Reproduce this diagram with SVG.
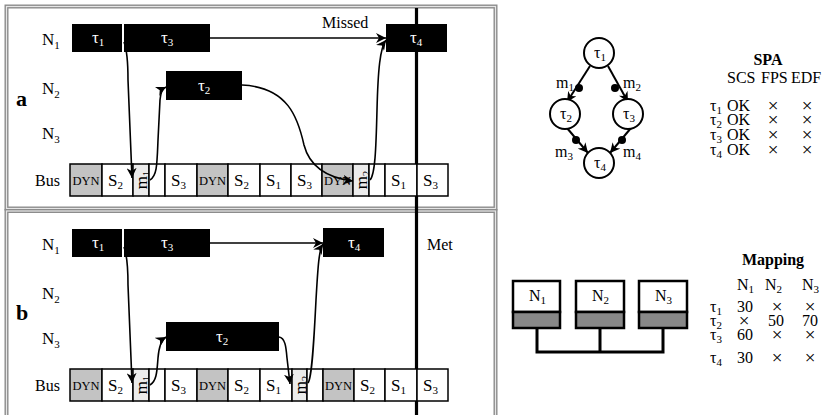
<svg xmlns="http://www.w3.org/2000/svg" width="824" height="415" viewBox="0 0 824 415" font-family="'Liberation Serif', 'DejaVu Serif', serif">
<style>
text{font-family:"Liberation Serif","DejaVu Serif",serif;font-size:16px;fill:#000}
.w{fill:#fff}
.sm{font-size:12.5px}
.b{font-weight:bold}
.sub{font-size:11px}
.big{font-size:17px}
.x{font-size:19px}
.rm{font-size:17px}
.frame{fill:none;stroke:#8c8c8c;stroke-width:4}
.frameIn{fill:none;stroke:#e6e6e6;stroke-width:1.2}
.blk{fill:#000}
.cell{fill:#fff;stroke:#000;stroke-width:1.5}
.dyn{fill:#c3c3c3}
.msg{fill:#ebebeb}
.conn{fill:none;stroke:#000;stroke-width:1.6}
.edge{fill:none;stroke:#000;stroke-width:2}
.circ{fill:#fff;stroke:#000;stroke-width:2}
.box{fill:#fff;stroke:#000;stroke-width:2.5}
.boxg{fill:#888;stroke:#000;stroke-width:2.5}
.wire{fill:none;stroke:#000;stroke-width:3}
</style>
<defs>
<marker id="ah" markerUnits="userSpaceOnUse" markerWidth="12" markerHeight="10" refX="10" refY="5" orient="auto">
<path d="M0,0 L10,5 L0,10 L3,5 Z" fill="#000"/>
</marker>
</defs>
<rect x="0" y="0" width="824" height="415" fill="#fff"/>

<g id="frames">
<rect class="frame" x="6.5" y="6.5" width="489" height="202"/>
<rect class="frameIn" x="6.5" y="6.5" width="489" height="202"/>
<rect class="frame" x="6.5" y="211" width="489" height="210"/>
<rect class="frameIn" x="6.5" y="211" width="489" height="210"/>
</g>
<line x1="416.5" y1="8" x2="416.5" y2="415" stroke="#000" stroke-width="3.2"/>

<g id="panel-a-labels">
<text x="16" y="106" class="b" style="font-size:22px">a</text>
<text x="42" y="45" class="big">N<tspan class="sub" dy="4">1</tspan></text>
<text x="42" y="94" class="big">N<tspan class="sub" dy="4">2</tspan></text>
<text x="42" y="139" class="big">N<tspan class="sub" dy="4">3</tspan></text>
<text x="35" y="186">Bus</text>
<text x="322" y="28">Missed</text>
</g>
<g id="a-tau1"><rect class="blk" x="72" y="24" width="50" height="28"/><text class="w big" x="92" y="43">τ<tspan class="sub w" dy="3">1</tspan></text></g>
<g id="a-tau3"><rect class="blk" x="124" y="24" width="86" height="28"/><text class="w big" x="161" y="43">τ<tspan class="sub w" dy="3">3</tspan></text></g>
<g id="a-tau2"><rect class="blk" x="166" y="71" width="76" height="29"/><text class="w big" x="198" y="91">τ<tspan class="sub w" dy="3">2</tspan></text></g>
<g id="a-tau4"><rect class="blk" x="386" y="24" width="61" height="28"/><text class="w big" x="410" y="43">τ<tspan class="sub w" dy="3">4</tspan></text></g>

<g id="a-bus">
<rect class="cell dyn" x="70" y="164" width="32" height="32"/><text class="sm" x="86" y="185" text-anchor="middle">DYN</text>
<rect class="cell" x="102" y="164" width="31" height="32"/><text class="big" x="108" y="186">S<tspan class="sub" dy="3">2</tspan></text>
<rect class="cell msg" x="133" y="164" width="16" height="32"/><text class="rm" transform="translate(146.5,180) rotate(-90)" text-anchor="middle">m<tspan class="sub" dy="3">1</tspan></text>
<rect class="cell" x="149" y="164" width="16" height="32"/>
<rect class="cell" x="165" y="164" width="32" height="32"/><text class="big" x="171" y="186">S<tspan class="sub" dy="3">3</tspan></text>
<rect class="cell dyn" x="197" y="164" width="31" height="32"/><text class="sm" x="212.5" y="185" text-anchor="middle">DYN</text>
<rect class="cell" x="228" y="164" width="32" height="32"/><text class="big" x="234" y="186">S<tspan class="sub" dy="3">2</tspan></text>
<rect class="cell" x="260" y="164" width="31" height="32"/><text class="big" x="266" y="186">S<tspan class="sub" dy="3">1</tspan></text>
<rect class="cell" x="291" y="164" width="31" height="32"/><text class="big" x="297" y="186">S<tspan class="sub" dy="3">3</tspan></text>
<rect class="cell dyn" x="322" y="164" width="31" height="32"/><text class="sm" x="337.5" y="185" text-anchor="middle">DYN</text>
<rect class="cell msg" x="353" y="164" width="16" height="32"/><text class="rm" transform="translate(366.5,180) rotate(-90)" text-anchor="middle">m<tspan class="sub" dy="3">2</tspan></text>
<rect class="cell" x="369" y="164" width="16" height="32"/>
<rect class="cell" x="385" y="164" width="32" height="32"/><text class="big" x="391" y="186">S<tspan class="sub" dy="3">1</tspan></text>
<rect class="cell" x="417" y="164" width="31" height="32"/><text class="big" x="423" y="186">S<tspan class="sub" dy="3">3</tspan></text>
</g>

<g id="panel-b-labels">
<text x="16" y="320" class="b" style="font-size:22px">b</text>
<text x="42" y="250" class="big">N<tspan class="sub" dy="4">1</tspan></text>
<text x="42" y="299" class="big">N<tspan class="sub" dy="4">2</tspan></text>
<text x="42" y="344" class="big">N<tspan class="sub" dy="4">3</tspan></text>
<text x="35" y="391">Bus</text>
<text x="427" y="250">Met</text>
</g>
<g id="b-tau1"><rect class="blk" x="72" y="229" width="50" height="28"/><text class="w big" x="92" y="248">τ<tspan class="sub w" dy="3">1</tspan></text></g>
<g id="b-tau3"><rect class="blk" x="124" y="229" width="86" height="28"/><text class="w big" x="161" y="248">τ<tspan class="sub w" dy="3">3</tspan></text></g>
<g id="b-tau2"><rect class="blk" x="166" y="322" width="113" height="29"/><text class="w big" x="216" y="342">τ<tspan class="sub w" dy="3">2</tspan></text></g>
<g id="b-tau4"><rect class="blk" x="323" y="228" width="61" height="29"/><text class="w big" x="348" y="248">τ<tspan class="sub w" dy="3">4</tspan></text></g>

<g id="b-bus">
<rect class="cell dyn" x="70" y="369" width="32" height="32"/><text class="sm" x="86" y="390" text-anchor="middle">DYN</text>
<rect class="cell" x="102" y="369" width="31" height="32"/><text class="big" x="108" y="391">S<tspan class="sub" dy="3">2</tspan></text>
<rect class="cell msg" x="133" y="369" width="16" height="32"/><text class="rm" transform="translate(146.5,385) rotate(-90)" text-anchor="middle">m<tspan class="sub" dy="3">1</tspan></text>
<rect class="cell" x="149" y="369" width="16" height="32"/>
<rect class="cell" x="165" y="369" width="32" height="32"/><text class="big" x="171" y="391">S<tspan class="sub" dy="3">3</tspan></text>
<rect class="cell dyn" x="197" y="369" width="31" height="32"/><text class="sm" x="212.5" y="390" text-anchor="middle">DYN</text>
<rect class="cell" x="228" y="369" width="32" height="32"/><text class="big" x="234" y="391">S<tspan class="sub" dy="3">2</tspan></text>
<rect class="cell" x="260" y="369" width="32" height="32"/><text class="big" x="266" y="391">S<tspan class="sub" dy="3">1</tspan></text>
<rect class="cell msg" x="292" y="369" width="15" height="32"/><text class="rm" transform="translate(305.5,385) rotate(-90)" text-anchor="middle">m<tspan class="sub" dy="3">2</tspan></text>
<rect class="cell" x="307" y="369" width="16" height="32"/>
<rect class="cell dyn" x="323" y="369" width="31" height="32"/><text class="sm" x="338.5" y="390" text-anchor="middle">DYN</text>
<rect class="cell" x="354" y="369" width="31" height="32"/><text class="big" x="360" y="391">S<tspan class="sub" dy="3">2</tspan></text>
<rect class="cell" x="385" y="369" width="32" height="32"/><text class="big" x="391" y="391">S<tspan class="sub" dy="3">1</tspan></text>
<rect class="cell" x="417" y="369" width="31" height="32"/><text class="big" x="423" y="391">S<tspan class="sub" dy="3">3</tspan></text>
</g>

<g id="connectors" class="conn" marker-end="url(#ah)">
<path d="M210,38 L386,38"/>
<path d="M124,42 C127,50 128,60 128,80 L132,178"/>
<path d="M150,180 C157,176 157,165 158,140 L160,100 C161,92 162,89 166,87"/>
<path d="M242,85 C288,87 298,118 304,145 C310,168 328,178 353,181"/>
<path d="M370,180 C375,175 376,150 377,110 C378,70 380,48 386,40"/>
<path d="M210,243 L323,243"/>
<path d="M124,247 C127,255 128,265 128,285 L132,383"/>
<path d="M150,385 C157,381 157,370 158,358 C159,346 161,340 166,337"/>
<path d="M279,337 C285,338 286,346 287,358 L290,384"/>
<path d="M308,383 C312,378 314,340 316,300 C318,265 319,250 323,244"/>
</g>

<g id="graph-edges" class="edge" marker-end="url(#ah)">
<path d="M590,66 L567,102"/>
<path d="M608,66 L628,102"/>
<path d="M567,128 L588,153"/>
<path d="M631,128 L610,153"/>
</g>
<g id="graph-dots" fill="#000">
<circle cx="579" cy="88" r="4"/>
<circle cx="615" cy="88" r="4"/>
<circle cx="576" cy="140" r="4"/>
<circle cx="622" cy="140" r="4"/>
</g>
<g id="g-tau1"><circle class="circ" cx="599" cy="53" r="15"/><text x="594" y="58">τ<tspan class="sub" dy="3">1</tspan></text></g>
<g id="g-tau2"><circle class="circ" cx="565" cy="114" r="15"/><text x="560" y="119">τ<tspan class="sub" dy="3">2</tspan></text></g>
<g id="g-tau3"><circle class="circ" cx="628" cy="114" r="15"/><text x="623" y="119">τ<tspan class="sub" dy="3">3</tspan></text></g>
<g id="g-tau4"><circle class="circ" cx="599" cy="163" r="15"/><text x="594" y="168">τ<tspan class="sub" dy="3">4</tspan></text></g>
<g id="graph-labels">
<text x="556" y="88">m<tspan class="sub" dy="3">1</tspan></text>
<text x="623" y="88">m<tspan class="sub" dy="3">2</tspan></text>
<text x="555" y="157">m<tspan class="sub" dy="3">3</tspan></text>
<text x="623" y="157">m<tspan class="sub" dy="3">4</tspan></text>
</g>

<g id="spa-table">
<text x="768" y="65" class="b" text-anchor="middle">SPA</text>
<text x="727" y="83">SCS</text><text x="761" y="83">FPS</text><text x="791" y="83">EDF</text>
<text x="710" y="111">τ<tspan class="sub" dy="3">1</tspan></text><text x="727" y="111">OK</text><text class="x" x="773" y="112" text-anchor="middle">×</text><text class="x" x="807" y="112" text-anchor="middle">×</text>
<text x="710" y="125">τ<tspan class="sub" dy="3">2</tspan></text><text x="727" y="125">OK</text><text class="x" x="773" y="126" text-anchor="middle">×</text><text class="x" x="807" y="126" text-anchor="middle">×</text>
<text x="710" y="140">τ<tspan class="sub" dy="3">3</tspan></text><text x="727" y="140">OK</text><text class="x" x="773" y="141" text-anchor="middle">×</text><text class="x" x="807" y="141" text-anchor="middle">×</text>
<text x="710" y="155">τ<tspan class="sub" dy="3">4</tspan></text><text x="727" y="155">OK</text><text class="x" x="773" y="156" text-anchor="middle">×</text><text class="x" x="807" y="156" text-anchor="middle">×</text>
</g>

<g id="arch-wires">
<path class="wire" d="M537,328 V352 H663 V328 M600,328 V352"/>
</g>
<g id="arch-N1"><rect class="box" x="513" y="281" width="47" height="31"/><rect class="boxg" x="513" y="312" width="47" height="16"/><text x="529" y="301">N<tspan class="sub" dy="3">1</tspan></text></g>
<g id="arch-N2"><rect class="box" x="576" y="281" width="48" height="31"/><rect class="boxg" x="576" y="312" width="48" height="16"/><text x="592" y="301">N<tspan class="sub" dy="3">2</tspan></text></g>
<g id="arch-N3"><rect class="box" x="639" y="281" width="48" height="31"/><rect class="boxg" x="639" y="312" width="48" height="16"/><text x="655" y="301">N<tspan class="sub" dy="3">3</tspan></text></g>

<g id="mapping-table">
<text x="773" y="265" class="b" text-anchor="middle">Mapping</text>
<text x="737" y="290">N<tspan class="sub" dy="3">1</tspan></text><text x="765" y="290">N<tspan class="sub" dy="3">2</tspan></text><text x="802" y="290">N<tspan class="sub" dy="3">3</tspan></text>
<text x="710" y="312">τ<tspan class="sub" dy="3">1</tspan></text><text x="737" y="312">30</text><text class="x" x="777" y="313" text-anchor="middle">×</text><text class="x" x="810" y="313" text-anchor="middle">×</text>
<text x="710" y="326">τ<tspan class="sub" dy="3">2</tspan></text><text class="x" x="744" y="327" text-anchor="middle">×</text><text x="768" y="326">50</text><text x="802" y="326">70</text>
<text x="710" y="340">τ<tspan class="sub" dy="3">3</tspan></text><text x="737" y="340">60</text><text class="x" x="777" y="341" text-anchor="middle">×</text><text class="x" x="810" y="341" text-anchor="middle">×</text>
<text x="710" y="363">τ<tspan class="sub" dy="3">4</tspan></text><text x="737" y="363">30</text><text class="x" x="777" y="364" text-anchor="middle">×</text><text class="x" x="810" y="364" text-anchor="middle">×</text>
</g>
</svg>
